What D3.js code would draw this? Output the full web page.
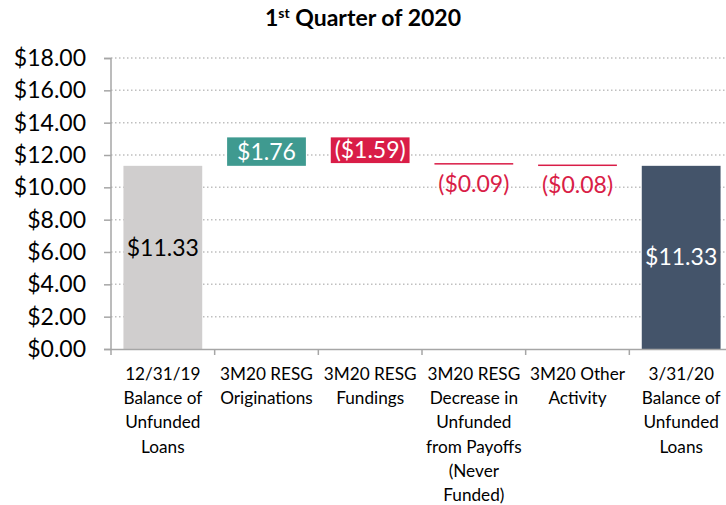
<!DOCTYPE html>
<html>
<head>
<meta charset="utf-8">
<script src="https://cdn.jsdelivr.net/npm/d3@7"></script>
<style>
body { margin: 0; background: #fff; }
text { font-family: Lato, "Open Sans", sans-serif; }
</style>
</head>
<body>
<div class="canvas"></div>
<script>
var W = 726, H = 505;

// chart data
var categories = [
	["12/31/19", "Balance of", "Unfunded", "Loans"],
	["3M20 RESG", "Originations"],
	["3M20 RESG", "Fundings"],
	["3M20 RESG", "Decrease in", "Unfunded", "from Payoffs", "(Never", "Funded)"],
	["3M20 Other", "Activity"],
	["3/31/20", "Balance of", "Unfunded", "Loans"]
];
var values = [11.33, 1.76, -1.59, -0.09, -0.08, 11.33];
var kinds = ["start", "up", "down", "down", "down", "end"];
var y_ticks = [0, 2, 4, 6, 8, 10, 12, 14, 16, 18];

var colors = {start: "#d0cece", up: "#3f9a90", down: "#d91d47", end: "#44546a"};

function fmt_money(v) {
	var s = "$" + Math.abs(v).toFixed(2);
	return v < 0 ? "(" + s + ")" : s;
}

// build waterfall segments
var bars = [];
var run = 0;
for (var i = 0; i < values.length; ++i) {
	var lo, hi;
	if (kinds[i] == "start" || kinds[i] == "end") {
		lo = 0; hi = values[i];
		run = values[i];
	} else {
		var nxt = run + values[i];
		lo = Math.min(run, nxt); hi = Math.max(run, nxt);
		run = nxt;
	}
	bars.push({i: i, lo: lo, hi: hi, v: values[i], kind: kinds[i]});
}

var svg = d3.select("div.canvas").append("svg").attr("width", W).attr("height", H);

var x = d3.scaleBand().domain(d3.range(categories.length)).range([111, 733]).paddingInner(0.24).paddingOuter(0.12);
var y = d3.scaleLinear().domain([0, 18]).range([349, 58]);

// title
var title = svg.append("text")
	.attr("x", 363).attr("y", 26)
	.attr("text-anchor", "middle")
	.style("font-weight", "bold").style("font-size", "23px").attr("fill", "#000");
title.append("tspan").text("1");
title.append("tspan").text("st").attr("dy", -8).style("font-size", "14px");
title.append("tspan").text(" Quarter of 2020").attr("dy", 8);

// grid
svg.append("g").selectAll("line").data(y_ticks.slice(1)).enter().append("line")
	.attr("x1", 111).attr("x2", W)
	.attr("y1", function(d) { return y(d); }).attr("y2", function(d) { return y(d); })
	.attr("stroke", "#bfbfbf").attr("stroke-width", 1.5).attr("stroke-dasharray", "1.5,2.5");

// bars
svg.append("g").selectAll("rect").data(bars).enter().append("rect")
	.attr("x", function(d) { return x(d.i); })
	.attr("width", x.bandwidth())
	.attr("y", function(d) { return y(d.hi); })
	.attr("height", function(d) { return Math.max(1.5, y(d.lo) - y(d.hi)); })
	.attr("fill", function(d) { return colors[d.kind]; });

// value labels
function is_thin(d) { return y(d.lo) - y(d.hi) < 10; }
svg.append("g").selectAll("text").data(bars).enter().append("text")
	.attr("x", function(d) { return x(d.i) + x.bandwidth() / 2; })
	.attr("y", function(d) {
		if (d.kind == "down" && is_thin(d)) return y(d.lo) + 19;
		if (d.kind == "start") return y((d.lo + d.hi) / 2) - 9;
		return y((d.lo + d.hi) / 2);
	})
	.attr("dy", "0.35em")
	.attr("text-anchor", "middle")
	.style("font-size", "23px")
	.attr("fill", function(d) {
		if (d.kind == "start") return "#000";
		if (d.kind == "down" && is_thin(d)) return colors.down;
		return "#fff";
	})
	.text(function(d) { return fmt_money(d.v); });

// y axis
var yAxis = svg.append("g").attr("transform", "translate(111,0)")
	.call(d3.axisLeft(y).tickValues(y_ticks).tickSize(7).tickPadding(18)
		.tickFormat(function(d) { return "$" + d.toFixed(2); }));
yAxis.selectAll("text").style("font-size", "23px").attr("fill", "#000").style("font-family", "Lato, sans-serif");
yAxis.select(".domain").attr("stroke", "#a6a6a6").attr("stroke-width", 1.5).attr("d", "M-7,58.5H0V349.5");
yAxis.selectAll(".tick line").attr("stroke", "#a6a6a6").attr("stroke-width", 1.5);

// x axis
var xg = svg.append("g");
xg.append("line").attr("x1", 104).attr("x2", W).attr("y1", 349.5).attr("y2", 349.5)
	.attr("stroke", "#a6a6a6").attr("stroke-width", 1.5);
var step = x.step();
xg.selectAll("line.tk").data(d3.range(categories.length + 1)).enter().append("line")
	.attr("class", "tk")
	.attr("x1", function(d) { return 111 + d * step; }).attr("x2", function(d) { return 111 + d * step; })
	.attr("y1", 349).attr("y2", 355)
	.attr("stroke", "#a6a6a6").attr("stroke-width", 1.5);

var cat = xg.selectAll("text.cat").data(categories).enter().append("text")
	.attr("class", "cat")
	.attr("text-anchor", "middle")
	.attr("x", function(d, i) { return x(i) + x.bandwidth() / 2; })
	.attr("y", 380)
	.style("font-size", "17.2px").attr("fill", "#000");
cat.selectAll("tspan").data(function(d) { return d; }).enter().append("tspan")
	.attr("x", function() { return this.parentNode.getAttribute("x"); })
	.attr("dy", function(d, j) { return j == 0 ? 0 : 24.2; })
	.text(function(d) { return d; });
</script>
</body>
</html>
